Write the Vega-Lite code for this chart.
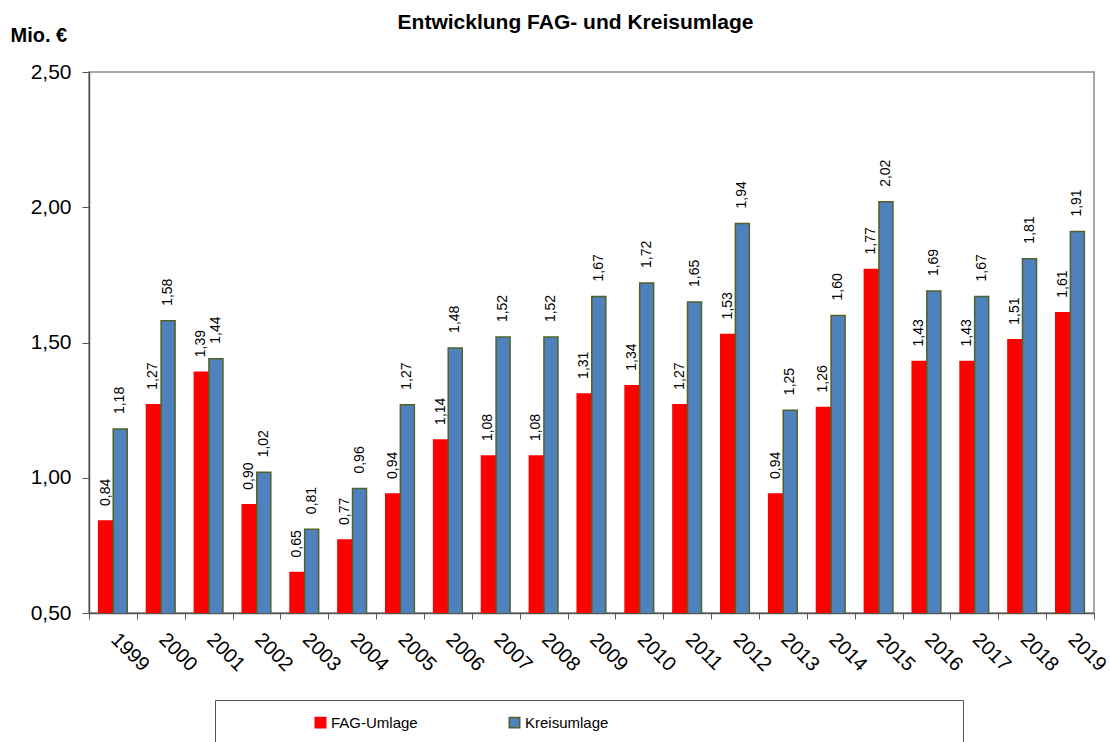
{
  "$schema": "https://vega.github.io/schema/vega-lite/v6.json",
  "width": 1005,
  "height": 541,
  "autosize": "none",
  "padding": {"left": 89, "top": 72, "right": 16, "bottom": 129},
  "background": "white",
  "config": {
    "locale": {"number": {"decimal": ",", "thousands": ".", "grouping": [3], "currency": ["", " €"]}},
    "font": "Liberation Sans",
    "view": {"stroke": "#8c8c8c", "strokeWidth": 1.5}
  },
  "title": {
    "text": "Entwicklung FAG- und Kreisumlage",
    "font": "Liberation Sans",
    "fontSize": 21,
    "fontWeight": "bold",
    "color": "#000000",
    "anchor": "middle",
    "dx": -16,
    "offset": -8
  },
  "data": {
    "values": [
      {"Jahr": "1999", "Reihe": "FAG-Umlage", "Wert": 0.84},
      {"Jahr": "1999", "Reihe": "Kreisumlage", "Wert": 1.18},
      {"Jahr": "2000", "Reihe": "FAG-Umlage", "Wert": 1.27},
      {"Jahr": "2000", "Reihe": "Kreisumlage", "Wert": 1.58},
      {"Jahr": "2001", "Reihe": "FAG-Umlage", "Wert": 1.39},
      {"Jahr": "2001", "Reihe": "Kreisumlage", "Wert": 1.44},
      {"Jahr": "2002", "Reihe": "FAG-Umlage", "Wert": 0.90},
      {"Jahr": "2002", "Reihe": "Kreisumlage", "Wert": 1.02},
      {"Jahr": "2003", "Reihe": "FAG-Umlage", "Wert": 0.65},
      {"Jahr": "2003", "Reihe": "Kreisumlage", "Wert": 0.81},
      {"Jahr": "2004", "Reihe": "FAG-Umlage", "Wert": 0.77},
      {"Jahr": "2004", "Reihe": "Kreisumlage", "Wert": 0.96},
      {"Jahr": "2005", "Reihe": "FAG-Umlage", "Wert": 0.94},
      {"Jahr": "2005", "Reihe": "Kreisumlage", "Wert": 1.27},
      {"Jahr": "2006", "Reihe": "FAG-Umlage", "Wert": 1.14},
      {"Jahr": "2006", "Reihe": "Kreisumlage", "Wert": 1.48},
      {"Jahr": "2007", "Reihe": "FAG-Umlage", "Wert": 1.08},
      {"Jahr": "2007", "Reihe": "Kreisumlage", "Wert": 1.52},
      {"Jahr": "2008", "Reihe": "FAG-Umlage", "Wert": 1.08},
      {"Jahr": "2008", "Reihe": "Kreisumlage", "Wert": 1.52},
      {"Jahr": "2009", "Reihe": "FAG-Umlage", "Wert": 1.31},
      {"Jahr": "2009", "Reihe": "Kreisumlage", "Wert": 1.67},
      {"Jahr": "2010", "Reihe": "FAG-Umlage", "Wert": 1.34},
      {"Jahr": "2010", "Reihe": "Kreisumlage", "Wert": 1.72},
      {"Jahr": "2011", "Reihe": "FAG-Umlage", "Wert": 1.27},
      {"Jahr": "2011", "Reihe": "Kreisumlage", "Wert": 1.65},
      {"Jahr": "2012", "Reihe": "FAG-Umlage", "Wert": 1.53},
      {"Jahr": "2012", "Reihe": "Kreisumlage", "Wert": 1.94},
      {"Jahr": "2013", "Reihe": "FAG-Umlage", "Wert": 0.94},
      {"Jahr": "2013", "Reihe": "Kreisumlage", "Wert": 1.25},
      {"Jahr": "2014", "Reihe": "FAG-Umlage", "Wert": 1.26},
      {"Jahr": "2014", "Reihe": "Kreisumlage", "Wert": 1.60},
      {"Jahr": "2015", "Reihe": "FAG-Umlage", "Wert": 1.77},
      {"Jahr": "2015", "Reihe": "Kreisumlage", "Wert": 2.02},
      {"Jahr": "2016", "Reihe": "FAG-Umlage", "Wert": 1.43},
      {"Jahr": "2016", "Reihe": "Kreisumlage", "Wert": 1.69},
      {"Jahr": "2017", "Reihe": "FAG-Umlage", "Wert": 1.43},
      {"Jahr": "2017", "Reihe": "Kreisumlage", "Wert": 1.67},
      {"Jahr": "2018", "Reihe": "FAG-Umlage", "Wert": 1.51},
      {"Jahr": "2018", "Reihe": "Kreisumlage", "Wert": 1.81},
      {"Jahr": "2019", "Reihe": "FAG-Umlage", "Wert": 1.61},
      {"Jahr": "2019", "Reihe": "Kreisumlage", "Wert": 1.91}
    ]
  },
  "encoding": {
    "x": {
      "field": "Jahr",
      "type": "nominal",
      "scale": {"paddingInner": 0, "paddingOuter": 0},
      "axis": {
        "title": null,
        "tickBand": "extent",
        "labelAngle": 45,
        "labelAlign": "left",
        "labelBaseline": "top",
        "labelFontSize": 20,
        "labelColor": "#000000",
        "labelPadding": 10,
        "labelOffset": 8,
        "tickSize": 6,
        "tickColor": "#555555",
        "domainColor": "#555555",
        "domainWidth": 1.5
      }
    },
    "xOffset": {
      "field": "Reihe",
      "type": "nominal",
      "sort": ["FAG-Umlage", "Kreisumlage"],
      "scale": {"paddingInner": 0.04, "paddingOuter": 0.66}
    },
    "y": {
      "field": "Wert",
      "type": "quantitative",
      "scale": {"domain": [0.5, 2.5], "zero": false, "nice": false},
      "axis": {
        "values": [0.5, 1, 1.5, 2, 2.5],
        "format": ".2f",
        "grid": false,
        "labelFontSize": 21,
        "labelColor": "#000000",
        "labelPadding": 11,
        "tickSize": 7,
        "tickColor": "#555555",
        "domainColor": "#555555",
        "domainWidth": 1.5,
        "title": "Mio. €",
        "titleAngle": 0,
        "titleAlign": "left",
        "titleBaseline": "middle",
        "titleX": -79,
        "titleY": -37,
        "titleFontSize": 20,
        "titleFontWeight": "bold",
        "titleColor": "#000000"
      }
    }
  },
  "layer": [
    {
      "mark": {"type": "bar", "clip": true, "strokeWidth": 1.5},
      "encoding": {
        "fill": {
          "field": "Reihe",
          "type": "nominal",
          "scale": {"domain": ["FAG-Umlage", "Kreisumlage"], "range": ["#ff0000", "#4f81bd"]},
          "legend": {
            "orient": "none",
            "legendX": 126,
            "legendY": 628,
            "direction": "horizontal",
            "title": " ",
            "titleOrient": "right",
            "titlePadding": 340,
            "symbolOffset": 83,
            "strokeColor": "#555555",
            "padding": 15,
            "labelFont": "Liberation Sans",
            "labelFontSize": 15,
            "labelColor": "#000000",
            "labelOffset": 3,
            "symbolType": "square",
            "symbolSize": 110,
            "symbolStrokeWidth": 1.5,
            "columnPadding": 6
          }
        },
        "stroke": {
          "field": "Reihe",
          "type": "nominal",
          "scale": {"domain": ["FAG-Umlage", "Kreisumlage"], "range": ["#ff0000", "#4f6228"]}
        }
      }
    },
    {
      "mark": {"type": "text", "angle": 270, "align": "left", "baseline": "middle", "dx": 15, "fontSize": 14, "color": "#000000"},
      "encoding": {
        "text": {"field": "Wert", "type": "quantitative", "format": ".2f"}
      }
    }
  ]
}
